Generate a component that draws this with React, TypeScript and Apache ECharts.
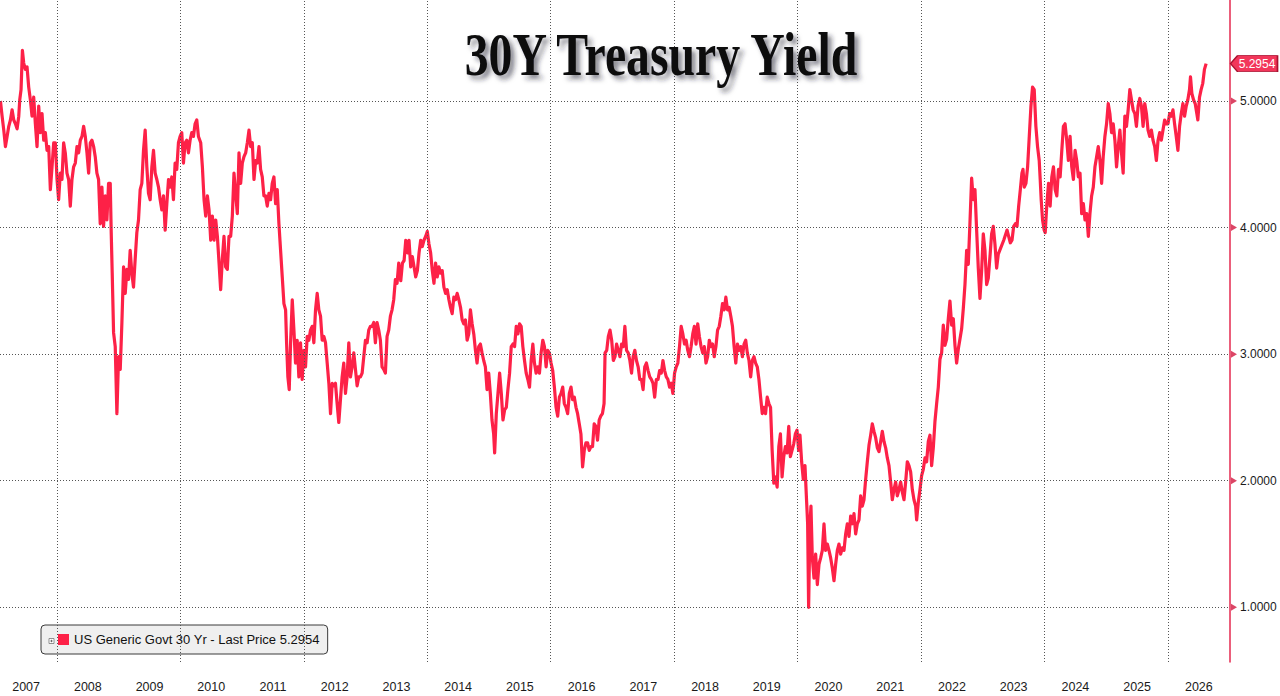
import React, { useEffect, useRef } from "react";
import * as echarts from "echarts";

const TITLE = "30Y Treasury Yield";
const SERIES_NAME = "US Generic Govt 30 Yr";
const LAST_PRICE = 5.2954;
const yTicks = [1, 2, 3, 4, 5];
const yearLabels = [2007, 2008, 2009, 2010, 2011, 2012, 2013, 2014, 2015, 2016, 2017, 2018, 2019, 2020, 2021, 2022, 2023, 2024, 2025, 2026];
const gridYears = [2008, 2010, 2012, 2014, 2016, 2018, 2020, 2022, 2024, 2026];
const X_MIN = 2007.077;
const X_MAX = 2027.005;
const Y_MIN = 0.568;
const Y_MAX = 5.798;

// [decimal year, yield %]
const yields2007to2010 = [
  [2007.084, 5.0], [2007.111, 4.88], [2007.138, 4.77], [2007.165, 4.64], [2007.192, 4.72], [2007.219, 4.8], [2007.246, 4.85], [2007.273, 4.93], [2007.3, 4.85], [2007.327, 4.82], [2007.354, 4.78], [2007.381, 4.88],
  [2007.397, 5.01], [2007.418, 5.09], [2007.44, 5.4], [2007.461, 5.3], [2007.488, 5.25], [2007.515, 5.27], [2007.542, 5.11], [2007.569, 5.01], [2007.596, 4.88], [2007.623, 5.03], [2007.65, 4.82], [2007.677, 4.64],
  [2007.704, 4.96], [2007.731, 4.75], [2007.758, 4.9], [2007.785, 4.69], [2007.812, 4.75], [2007.839, 4.61], [2007.866, 4.64], [2007.893, 4.3], [2007.92, 4.48], [2007.947, 4.67], [2007.974, 4.67],
  [2008.001, 4.38], [2008.027, 4.22], [2008.054, 4.43], [2008.081, 4.38], [2008.108, 4.67], [2008.135, 4.59], [2008.162, 4.43], [2008.189, 4.38], [2008.216, 4.17], [2008.243, 4.38], [2008.27, 4.48],
  [2008.297, 4.51], [2008.324, 4.64], [2008.351, 4.59], [2008.378, 4.69], [2008.405, 4.72], [2008.432, 4.8], [2008.459, 4.72], [2008.486, 4.59], [2008.513, 4.43], [2008.54, 4.67], [2008.567, 4.69],
  [2008.594, 4.64], [2008.62, 4.56], [2008.647, 4.43], [2008.674, 4.38], [2008.701, 4.03], [2008.728, 4.32], [2008.755, 4.01], [2008.782, 4.25], [2008.809, 4.06], [2008.836, 4.35], [2008.863, 4.35],
  [2008.879, 3.96], [2008.895, 3.64], [2008.917, 3.17], [2008.944, 3.06], [2008.971, 2.53], [2008.998, 2.98], [2009.025, 2.88], [2009.052, 3.25], [2009.079, 3.69], [2009.106, 3.48], [2009.133, 3.67],
  [2009.16, 3.59], [2009.186, 3.82], [2009.213, 3.64], [2009.24, 3.53], [2009.267, 3.75], [2009.294, 3.96], [2009.321, 4.06], [2009.348, 4.3], [2009.375, 4.35], [2009.402, 4.61], [2009.429, 4.77],
  [2009.456, 4.48], [2009.483, 4.27], [2009.51, 4.22], [2009.537, 4.48], [2009.564, 4.61], [2009.591, 4.43], [2009.618, 4.38], [2009.645, 4.32], [2009.672, 4.22], [2009.699, 4.14], [2009.726, 4.25],
  [2009.753, 3.98], [2009.78, 4.19], [2009.807, 4.38], [2009.833, 4.32], [2009.86, 4.4], [2009.887, 4.22], [2009.914, 4.51], [2009.941, 4.46], [2009.968, 4.67], [2009.995, 4.72], [2010.022, 4.75],
  [2010.049, 4.51], [2010.076, 4.67], [2010.103, 4.69], [2010.13, 4.59], [2010.157, 4.69], [2010.184, 4.75], [2010.211, 4.72], [2010.238, 4.82], [2010.265, 4.85], [2010.292, 4.72],
];

const yields2010to2013 = [
  [2010.329, 4.67], [2010.356, 4.48], [2010.383, 4.22], [2010.41, 4.09], [2010.437, 4.25], [2010.464, 4.14], [2010.491, 3.9], [2010.518, 4.09], [2010.545, 3.9], [2010.572, 4.06], [2010.599, 3.93],
  [2010.626, 3.72], [2010.652, 3.51], [2010.679, 3.75], [2010.706, 3.93], [2010.733, 3.69], [2010.76, 3.67], [2010.787, 3.93], [2010.814, 3.93], [2010.841, 4.09], [2010.868, 4.43], [2010.895, 4.27],
  [2010.922, 4.11], [2010.949, 4.59], [2010.976, 4.35], [2011.003, 4.51], [2011.03, 4.56], [2011.057, 4.59], [2011.084, 4.67], [2011.111, 4.77], [2011.138, 4.64], [2011.165, 4.67], [2011.192, 4.38],
  [2011.219, 4.53], [2011.246, 4.51], [2011.273, 4.64], [2011.299, 4.46], [2011.326, 4.4], [2011.353, 4.25], [2011.38, 4.25], [2011.407, 4.17], [2011.434, 4.27], [2011.461, 4.22], [2011.488, 4.35],
  [2011.515, 4.4], [2011.542, 4.19], [2011.569, 4.3], [2011.596, 4.03], [2011.623, 3.82], [2011.65, 3.61], [2011.677, 3.4], [2011.704, 3.35], [2011.72, 3.09], [2011.741, 2.82], [2011.763, 2.72],
  [2011.785, 3.09], [2011.812, 3.43], [2011.839, 3.19], [2011.865, 2.93], [2011.892, 3.11], [2011.919, 2.82], [2011.946, 3.09], [2011.973, 2.8], [2012.0, 3.03], [2012.027, 2.9], [2012.054, 3.14],
  [2012.081, 3.11], [2012.108, 3.19], [2012.135, 3.22], [2012.162, 3.09], [2012.189, 3.35], [2012.216, 3.48], [2012.243, 3.35], [2012.27, 3.3], [2012.297, 3.11], [2012.324, 3.14], [2012.351, 3.09],
  [2012.378, 2.93], [2012.405, 2.77], [2012.432, 2.53], [2012.459, 2.77], [2012.485, 2.75], [2012.512, 2.77], [2012.539, 2.61], [2012.566, 2.46], [2012.593, 2.64], [2012.62, 2.82], [2012.647, 2.93],
  [2012.674, 2.69], [2012.701, 2.82], [2012.728, 3.09], [2012.755, 2.82], [2012.782, 2.9], [2012.809, 3.01], [2012.836, 2.88], [2012.863, 2.75], [2012.89, 2.82], [2012.917, 2.82], [2012.944, 2.85],
  [2012.971, 2.98], [2012.998, 3.11], [2013.025, 3.09], [2013.051, 3.19], [2013.078, 3.22], [2013.105, 3.22], [2013.132, 3.25], [2013.159, 3.09], [2013.186, 3.25], [2013.213, 3.19], [2013.24, 3.11],
  [2013.267, 2.9], [2013.294, 2.88], [2013.321, 2.85], [2013.348, 3.14], [2013.375, 3.19], [2013.402, 3.3], [2013.429, 3.35], [2013.456, 3.43], [2013.483, 3.59], [2013.51, 3.56], [2013.537, 3.72],
];

const yields2013to2016 = [
  [2013.57, 3.58], [2013.597, 3.72], [2013.624, 3.74], [2013.651, 3.9], [2013.678, 3.8], [2013.704, 3.9], [2013.731, 3.69], [2013.758, 3.77], [2013.785, 3.69], [2013.812, 3.61], [2013.839, 3.66],
  [2013.866, 3.8], [2013.893, 3.9], [2013.919, 3.85], [2013.946, 3.9], [2013.973, 3.93], [2014.0, 3.97], [2014.027, 3.87], [2014.054, 3.8], [2014.081, 3.66], [2014.108, 3.56], [2014.134, 3.72],
  [2014.161, 3.61], [2014.188, 3.69], [2014.215, 3.64], [2014.242, 3.66], [2014.269, 3.53], [2014.296, 3.48], [2014.323, 3.51], [2014.35, 3.43], [2014.376, 3.37], [2014.403, 3.32], [2014.43, 3.45],
  [2014.457, 3.43], [2014.484, 3.48], [2014.511, 3.43], [2014.538, 3.37], [2014.565, 3.27], [2014.591, 3.24], [2014.618, 3.27], [2014.645, 3.11], [2014.672, 3.16], [2014.699, 3.35], [2014.726, 3.24],
  [2014.753, 3.16], [2014.78, 3.03], [2014.806, 2.93], [2014.833, 3.06], [2014.86, 3.08], [2014.887, 3.01], [2014.914, 2.95], [2014.941, 2.9], [2014.968, 2.72], [2014.995, 2.85], [2015.021, 2.69],
  [2015.048, 2.48], [2015.075, 2.37], [2015.091, 2.22], [2015.118, 2.53], [2015.145, 2.69], [2015.172, 2.85], [2015.199, 2.69], [2015.226, 2.48], [2015.253, 2.56], [2015.28, 2.58], [2015.306, 2.72],
  [2015.333, 2.85], [2015.36, 3.06], [2015.387, 3.08], [2015.414, 3.06], [2015.441, 3.22], [2015.468, 3.16], [2015.495, 3.24], [2015.521, 3.22], [2015.548, 3.06], [2015.575, 2.95], [2015.602, 2.85],
  [2015.629, 2.8], [2015.656, 2.74], [2015.683, 2.95], [2015.71, 3.08], [2015.736, 2.93], [2015.763, 2.85], [2015.79, 2.9], [2015.817, 2.85], [2015.844, 3.01], [2015.871, 3.11], [2015.898, 3.06],
  [2015.925, 2.9], [2015.951, 3.03], [2015.978, 3.01], [2016.005, 2.93], [2016.032, 2.87], [2016.059, 2.74], [2016.086, 2.58], [2016.113, 2.51], [2016.14, 2.66], [2016.167, 2.69], [2016.194, 2.74],
  [2016.22, 2.61], [2016.247, 2.58], [2016.274, 2.53], [2016.301, 2.69], [2016.328, 2.74], [2016.355, 2.64], [2016.382, 2.66], [2016.409, 2.58], [2016.435, 2.53], [2016.462, 2.45], [2016.489, 2.37],
  [2016.516, 2.11], [2016.543, 2.24], [2016.57, 2.3], [2016.597, 2.3], [2016.624, 2.24], [2016.65, 2.27], [2016.677, 2.27], [2016.704, 2.45], [2016.731, 2.43], [2016.758, 2.32], [2016.785, 2.48],
];

const yields2016to2020 = [
  [2016.81, 2.51], [2016.837, 2.53], [2016.864, 2.61], [2016.88, 3.01], [2016.907, 3.03], [2016.933, 3.14], [2016.96, 3.19], [2016.987, 3.11], [2017.014, 2.95], [2017.041, 2.98], [2017.067, 3.08],
  [2017.094, 3.03], [2017.121, 2.98], [2017.148, 3.08], [2017.175, 3.06], [2017.201, 3.22], [2017.228, 3.03], [2017.255, 3.01], [2017.282, 2.95], [2017.309, 2.85], [2017.335, 2.98], [2017.362, 3.03],
  [2017.389, 2.95], [2017.416, 2.9], [2017.443, 2.8], [2017.47, 2.8], [2017.496, 2.72], [2017.523, 2.9], [2017.55, 2.93], [2017.577, 2.87], [2017.604, 2.82], [2017.63, 2.8], [2017.657, 2.77],
  [2017.684, 2.66], [2017.711, 2.8], [2017.738, 2.8], [2017.764, 2.87], [2017.791, 2.85], [2017.818, 2.95], [2017.845, 2.87], [2017.872, 2.82], [2017.898, 2.8], [2017.925, 2.74], [2017.952, 2.77],
  [2017.979, 2.69], [2018.006, 2.85], [2018.033, 2.9], [2018.059, 2.93], [2018.086, 3.06], [2018.113, 3.22], [2018.14, 3.16], [2018.167, 3.08], [2018.193, 3.11], [2018.22, 3.03], [2018.247, 2.98],
  [2018.274, 3.06], [2018.301, 3.16], [2018.327, 3.22], [2018.354, 3.08], [2018.381, 3.24], [2018.408, 3.14], [2018.435, 3.06], [2018.462, 3.01], [2018.488, 3.06], [2018.515, 2.93], [2018.542, 2.98],
  [2018.569, 3.11], [2018.596, 3.06], [2018.622, 3.08], [2018.649, 2.98], [2018.676, 3.06], [2018.703, 3.19], [2018.73, 3.22], [2018.756, 3.3], [2018.783, 3.4], [2018.81, 3.35], [2018.837, 3.45],
  [2018.864, 3.35], [2018.89, 3.37], [2018.917, 3.3], [2018.944, 3.22], [2018.971, 3.06], [2018.998, 2.93], [2019.025, 3.08], [2019.051, 3.03], [2019.078, 3.06], [2019.105, 2.98], [2019.132, 3.08],
  [2019.159, 3.11], [2019.185, 3.01], [2019.212, 2.95], [2019.239, 2.82], [2019.266, 2.95], [2019.293, 2.98], [2019.319, 2.93], [2019.346, 2.9], [2019.373, 2.8], [2019.4, 2.66], [2019.427, 2.53],
  [2019.453, 2.58], [2019.48, 2.53], [2019.507, 2.66], [2019.534, 2.61], [2019.561, 2.58], [2019.587, 2.24], [2019.614, 1.98], [2019.641, 2.03], [2019.668, 1.95], [2019.695, 2.27], [2019.721, 2.37],
  [2019.748, 2.03], [2019.775, 2.19], [2019.802, 2.27], [2019.829, 2.22], [2019.856, 2.43], [2019.882, 2.19], [2019.909, 2.24], [2019.936, 2.29], [2019.963, 2.37], [2019.99, 2.4], [2020.016, 2.24],
];

const yields2020to2023 = [
  [2020.038, 2.36], [2020.065, 2.15], [2020.092, 2.01], [2020.119, 2.12], [2020.146, 1.83], [2020.162, 1.66], [2020.178, 1.0], [2020.2, 1.66], [2020.216, 1.8], [2020.238, 1.39], [2020.265, 1.23],
  [2020.292, 1.42], [2020.319, 1.18], [2020.346, 1.34], [2020.373, 1.39], [2020.4, 1.45], [2020.427, 1.66], [2020.454, 1.45], [2020.481, 1.5], [2020.508, 1.45], [2020.535, 1.39], [2020.562, 1.31],
  [2020.589, 1.21], [2020.616, 1.34], [2020.643, 1.45], [2020.67, 1.5], [2020.697, 1.42], [2020.724, 1.47], [2020.751, 1.45], [2020.778, 1.58], [2020.805, 1.66], [2020.832, 1.56], [2020.859, 1.72],
  [2020.886, 1.66], [2020.913, 1.74], [2020.94, 1.58], [2020.967, 1.66], [2020.994, 1.69], [2021.021, 1.88], [2021.048, 1.8], [2021.075, 1.85], [2021.102, 2.01], [2021.129, 2.15], [2021.156, 2.28],
  [2021.183, 2.36], [2021.21, 2.45], [2021.237, 2.39], [2021.264, 2.34], [2021.291, 2.26], [2021.318, 2.23], [2021.345, 2.31], [2021.372, 2.39], [2021.399, 2.31], [2021.426, 2.26], [2021.453, 2.18],
  [2021.48, 2.12], [2021.507, 1.99], [2021.534, 1.85], [2021.561, 1.93], [2021.588, 1.99], [2021.615, 1.88], [2021.642, 1.93], [2021.669, 1.99], [2021.696, 1.91], [2021.723, 1.85], [2021.75, 1.99],
  [2021.777, 2.15], [2021.804, 2.12], [2021.831, 2.07], [2021.858, 1.93], [2021.885, 1.85], [2021.912, 1.8], [2021.928, 1.69], [2021.955, 1.83], [2021.982, 1.93], [2022.009, 2.04], [2022.036, 2.09],
  [2022.063, 2.18], [2022.09, 2.15], [2022.117, 2.31], [2022.144, 2.36], [2022.171, 2.12], [2022.198, 2.26], [2022.225, 2.47], [2022.252, 2.61], [2022.279, 2.74], [2022.306, 2.96], [2022.333, 3.01],
  [2022.36, 3.23], [2022.387, 3.07], [2022.414, 3.12], [2022.441, 3.28], [2022.468, 3.42], [2022.495, 3.23], [2022.522, 3.28], [2022.549, 3.07], [2022.576, 2.93], [2022.603, 3.04], [2022.63, 3.12],
  [2022.657, 3.2], [2022.684, 3.36], [2022.711, 3.55], [2022.738, 3.82], [2022.765, 3.71], [2022.792, 4.04], [2022.819, 4.39], [2022.846, 4.22], [2022.873, 4.3], [2022.9, 3.98], [2022.927, 3.68],
  [2022.954, 3.44], [2022.981, 3.66], [2023.008, 3.95], [2023.035, 3.82], [2023.062, 3.55], [2023.089, 3.6], [2023.116, 3.77], [2023.143, 3.95], [2023.17, 4.01], [2023.197, 3.87], [2023.224, 3.68],
  [2023.251, 3.79],
];

const yields2023to2026 = [
  [2023.339, 3.9], [2023.393, 3.98], [2023.419, 3.93], [2023.446, 3.88], [2023.473, 3.9], [2023.5, 4.01], [2023.527, 4.03], [2023.554, 4.01], [2023.581, 4.17], [2023.608, 4.3], [2023.634, 4.43],
  [2023.651, 4.46], [2023.672, 4.32], [2023.699, 4.35], [2023.726, 4.48], [2023.753, 4.72], [2023.78, 4.96], [2023.806, 5.11], [2023.833, 5.09], [2023.86, 4.8], [2023.887, 4.64], [2023.914, 4.53],
  [2023.93, 4.38], [2023.946, 4.22], [2023.968, 4.06], [2023.995, 3.98], [2024.011, 3.96], [2024.038, 4.19], [2024.065, 4.35], [2024.091, 4.17], [2024.118, 4.4], [2024.145, 4.48], [2024.172, 4.3],
  [2024.199, 4.25], [2024.226, 4.46], [2024.253, 4.4], [2024.28, 4.61], [2024.306, 4.8], [2024.333, 4.82], [2024.36, 4.69], [2024.387, 4.53], [2024.414, 4.72], [2024.441, 4.48], [2024.468, 4.38],
  [2024.495, 4.61], [2024.521, 4.53], [2024.548, 4.4], [2024.575, 4.43], [2024.602, 4.11], [2024.629, 4.19], [2024.656, 4.06], [2024.683, 4.11], [2024.71, 3.93], [2024.736, 4.11], [2024.763, 4.25],
  [2024.79, 4.32], [2024.817, 4.48], [2024.844, 4.56], [2024.871, 4.64], [2024.898, 4.53], [2024.925, 4.35], [2024.951, 4.56], [2024.978, 4.72], [2025.005, 4.82], [2025.032, 4.98], [2025.059, 4.9],
  [2025.086, 4.75], [2025.113, 4.82], [2025.14, 4.69], [2025.167, 4.48], [2025.194, 4.64], [2025.221, 4.77], [2025.247, 4.59], [2025.274, 4.43], [2025.301, 4.88], [2025.328, 4.8], [2025.355, 4.93],
  [2025.382, 5.09], [2025.409, 5.01], [2025.436, 4.93], [2025.463, 4.9], [2025.489, 4.8], [2025.516, 4.96], [2025.543, 5.02], [2025.57, 4.96], [2025.597, 4.8], [2025.624, 4.98], [2025.651, 4.9],
  [2025.677, 4.77], [2025.704, 4.72], [2025.731, 4.77], [2025.758, 4.69], [2025.785, 4.64], [2025.812, 4.53], [2025.839, 4.69], [2025.866, 4.75], [2025.892, 4.69], [2025.919, 4.77], [2025.946, 4.85],
  [2025.973, 4.82], [2026.0, 4.82], [2026.027, 4.9], [2026.054, 4.88], [2026.081, 4.93], [2026.107, 4.82], [2026.134, 4.72], [2026.161, 4.61], [2026.188, 4.8], [2026.215, 4.9], [2026.242, 4.98],
  [2026.269, 4.88], [2026.296, 4.96], [2026.322, 5.01], [2026.349, 5.09], [2026.365, 5.19], [2026.387, 5.06], [2026.414, 5.01], [2026.441, 4.98], [2026.468, 4.9], [2026.484, 4.85], [2026.511, 5.03],
  [2026.537, 5.09], [2026.564, 5.14], [2026.591, 5.25], [2026.618, 5.2954],
];

const LINE_COLOR = "#fd2147";
const AXIS_COLOR = "#e5294f";
const SANS = '"Liberation Sans", Arial, sans-serif';

export default function App() {
  const ref = useRef<HTMLDivElement>(null);

  useEffect(() => {
    if (!ref.current) return;
    const chart = echarts.init(ref.current, null, { renderer: "svg" });
    const data = [
      ...yields2007to2010,
      ...yields2010to2013,
      ...yields2013to2016,
      ...yields2016to2020,
      ...yields2020to2023,
      ...yields2023to2026,
    ];

    chart.setOption({
      animation: false,
      backgroundColor: "#ffffff",
      textStyle: { fontFamily: SANS },
      grid: { left: 0, right: 50, top: 0, bottom: 34, containLabel: false },
      xAxis: {
        type: "value",
        min: X_MIN,
        max: X_MAX,
        axisLine: { show: false },
        axisTick: { show: false },
        splitLine: { show: false },
        axisLabel: {
          customValues: yearLabels.map((y) => y + 0.5),
          formatter: (v: number) => String(Math.floor(v)),
          color: "#1a1a1a",
          fontSize: 12.5,
          fontFamily: SANS,
          margin: 18,
        },
      },
      yAxis: {
        type: "value",
        position: "right",
        min: Y_MIN,
        max: Y_MAX,
        axisLine: { show: true, lineStyle: { color: AXIS_COLOR, width: 1.5 } },
        axisTick: { show: false },
        splitLine: { show: false },
        axisLabel: {
          customValues: yTicks,
          formatter: (v: number) => v.toFixed(4),
          color: "#1a1a1a",
          fontSize: 12,
          fontFamily: SANS,
          margin: 10,
        },
      },
      legend: {
        data: [SERIES_NAME],
        left: 41,
        top: 625,
        padding: [8, 8, 8, 17],
        backgroundColor: "#efefef",
        borderColor: "#3a3a3a",
        borderWidth: 1,
        borderRadius: 4,
        itemWidth: 11,
        itemHeight: 11,
        icon: "rect",
        selectedMode: false,
        formatter: () => `${SERIES_NAME} - Last Price ${LAST_PRICE.toFixed(4)}`,
        textStyle: { color: "#111", fontSize: 13, fontFamily: SANS },
      },
      graphic: [
        {
          type: "text",
          x: 661,
          y: 54,
          scaleX: 0.77,
          z: 50,
          style: {
            text: TITLE,
            fontFamily: '"Liberation Serif", "Times New Roman", serif',
            fontWeight: "bold",
            fontSize: 62,
            fill: "#0a0a0a",
            textAlign: "center",
            textVerticalAlign: "middle",
            textShadowColor: "rgba(30,30,50,0.55)",
            textShadowBlur: 5,
            textShadowOffsetX: 4,
            textShadowOffsetY: 4,
          },
        },
        {
          type: "group",
          z: 100,
          children: [
            { type: "rect", shape: { x: 49, y: 638.5, width: 5, height: 5 }, style: { fill: "#fff", stroke: "#777", lineWidth: 0.8 }, z: 100 },
            { type: "line", shape: { x1: 50.3, y1: 641, x2: 52.7, y2: 641 }, style: { stroke: "#555", lineWidth: 0.8 }, z: 101 },
            { type: "line", shape: { x1: 51.5, y1: 639.8, x2: 51.5, y2: 642.2 }, style: { stroke: "#555", lineWidth: 0.8 }, z: 101 },
          ],
        },
      ],
      series: [
        {
          type: "scatter",
          name: "ticks",
          data: yTicks.map((v) => [X_MAX, v]),
          symbol: "triangle",
          symbolRotate: -90,
          symbolSize: [7, 6],
          symbolOffset: [4, 0],
          itemStyle: { color: "#d2173f" },
          silent: true,
          clip: false,
          z: 1,
          markLine: {
            silent: true,
            symbol: ["none", "none"],
            label: { show: false },
            lineStyle: { type: [1, 2], color: "#555", width: 1 },
            data: [
              ...gridYears.map((y) => ({ xAxis: y })),
              ...yTicks.map((v) => ({ yAxis: v })),
            ],
          },
        },
        {
          type: "line",
          name: SERIES_NAME,
          data,
          showSymbol: false,
          symbol: "none",
          lineStyle: { color: LINE_COLOR, width: 3.2, join: "round" },
          itemStyle: { color: LINE_COLOR },
          z: 3,
          markPoint: {
            silent: true,
            symbol: "path://M0,8 L7,0 L47,0 L47,16 L7,16 Z",
            symbolSize: [47, 16],
            symbolKeepAspect: false,
            symbolOffset: [24, 0],
            itemStyle: { color: "#f2365a", borderColor: "#a8112f", borderWidth: 1 },
            label: {
              show: true,
              position: "inside",
              formatter: () => LAST_PRICE.toFixed(4),
              color: "#ffffff",
              fontSize: 12,
              fontFamily: SANS,
              offset: [3, 0],
            },
            data: [{ coord: [X_MAX, LAST_PRICE], value: LAST_PRICE }],
          },
        },
      ],
    });

    return () => chart.dispose();
  }, []);

  return (
    <div
      ref={ref}
      style={{ position: "absolute", left: 0, top: 0, width: 1280, height: 696, background: "#fff" }}
    />
  );
}
